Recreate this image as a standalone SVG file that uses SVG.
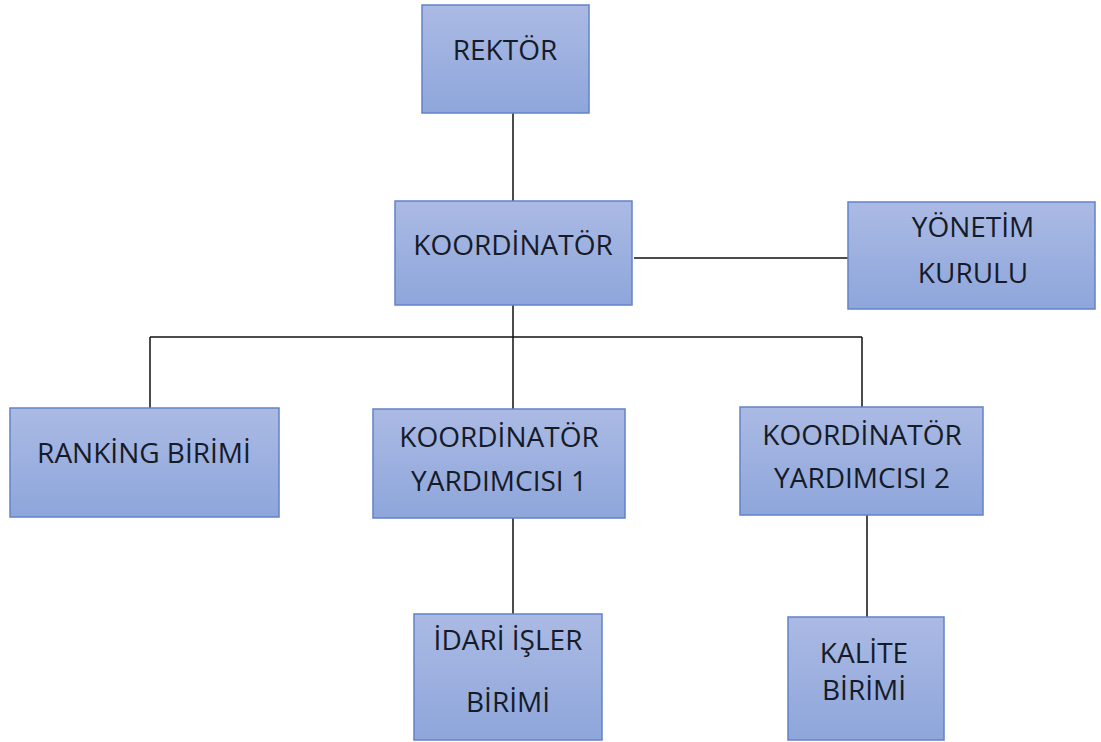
<svg xmlns="http://www.w3.org/2000/svg" width="1101" height="742" viewBox="0 0 1101 742">
<defs>
<linearGradient id="g" x1="0" y1="0" x2="0" y2="1">
<stop offset="0" stop-color="#abbae4"/>
<stop offset="1" stop-color="#8ea6db"/>
</linearGradient>
<style>
.box{fill:url(#g);stroke:#6283c8;stroke-width:1.5}
.t{font-family:"Open Sans","Noto Sans",sans-serif;font-size:28px;fill:#161b28;text-anchor:middle}
.c{stroke:#111;stroke-width:1.5;fill:none}
</style>
</defs>
<rect width="1101" height="742" fill="#fff"/>
<g id="connectors">
<line class="c" x1="513" y1="113" x2="513" y2="201"/>
<line class="c" x1="634" y1="258" x2="848" y2="258"/>
<line class="c" x1="513" y1="305" x2="513" y2="409"/>
<line class="c" x1="150" y1="337" x2="862" y2="337"/>
<line class="c" x1="150" y1="337" x2="150" y2="408"/>
<line class="c" x1="862" y1="337" x2="862" y2="407"/>
<line class="c" x1="513" y1="518" x2="513" y2="614"/>
<line class="c" x1="867" y1="515" x2="867" y2="617"/>
</g>
<g id="rektor"><rect class="box" x="422" y="5" width="167" height="108"/><text class="t" x="505" y="60">REKTÖR</text></g>
<g id="koordinator"><rect class="box" x="395" y="201" width="237" height="104"/><text class="t" x="513" y="255">KOORDİNATÖR</text></g>
<g id="yonetim"><rect class="box" x="848" y="202" width="247" height="107"/><text class="t" x="973" y="237">YÖNETİM</text><text class="t" x="973" y="283">KURULU</text></g>
<g id="ranking"><rect class="box" x="10" y="408" width="269" height="109"/><text class="t" x="144" y="463">RANKİNG BİRİMİ</text></g>
<g id="yardimci1"><rect class="box" x="373" y="409" width="252" height="109"/><text class="t" x="499" y="447">KOORDİNATÖR</text><text class="t" x="499" y="491">YARDIMCISI 1</text></g>
<g id="yardimci2"><rect class="box" x="740" y="407" width="243" height="108"/><text class="t" x="862" y="445">KOORDİNATÖR</text><text class="t" x="862" y="488">YARDIMCISI 2</text></g>
<g id="idari"><rect class="box" x="414" y="614" width="188" height="126"/><text class="t" x="508" y="650">İDARİ İŞLER</text><text class="t" x="508" y="712">BİRİMİ</text></g>
<g id="kalite"><rect class="box" x="788" y="617" width="156" height="123"/><text class="t" x="864" y="663">KALİTE</text><text class="t" x="864" y="700">BİRİMİ</text></g>
</svg>
